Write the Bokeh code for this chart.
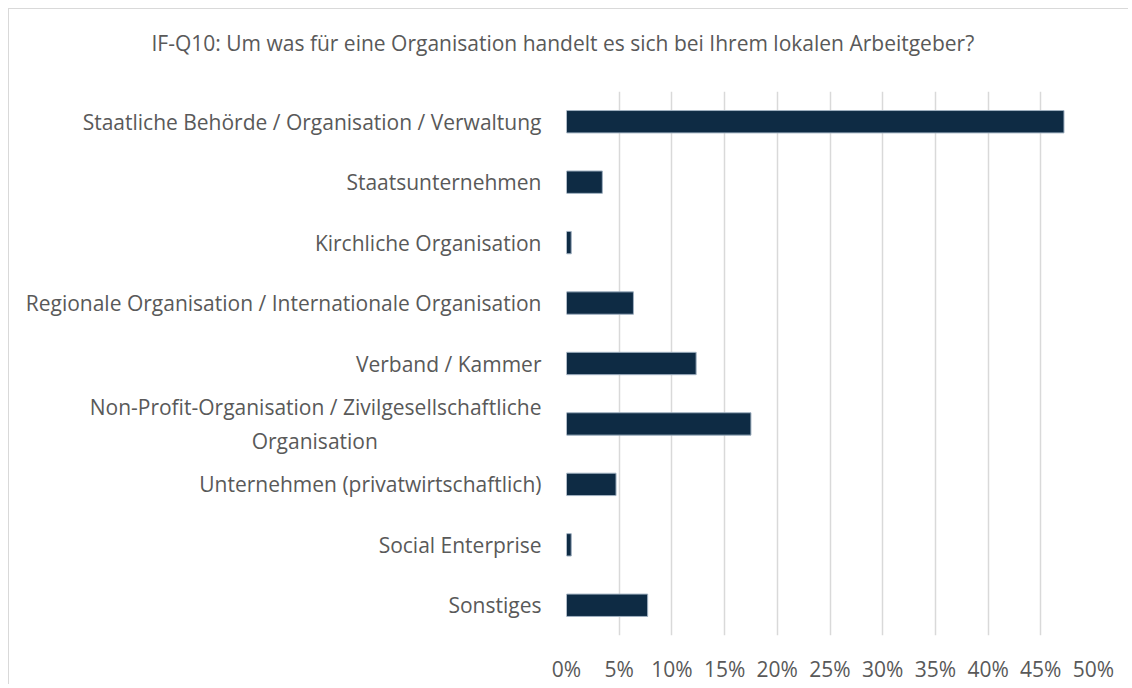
from bokeh.plotting import figure
from bokeh.models import ColumnDataSource, FactorRange, NumeralTickFormatter, FixedTicker, Title
from bokeh.embed import file_html
from bokeh.resources import INLINE

title_text = "IF-Q10: Um was für eine Organisation handelt es sich bei Ihrem lokalen Arbeitgeber?"

NBSP = "\u00a0"
categories = [
    "Staatliche Behörde / Organisation / Verwaltung",
    "Staatsunternehmen",
    "Kirchliche Organisation",
    "Regionale Organisation / Internationale Organisation",
    "Verband / Kammer",
    # second line padded so that it sits centred under the first, as in the reference
    "Non-Profit-Organisation / Zivilgesellschaftliche\nOrganisation" + NBSP * 30,
    "Unternehmen (privatwirtschaftlich)",
    "Social Enterprise",
    "Sonstiges",
]
shares = [0.472, 0.034, 0.0045, 0.0635, 0.123, 0.175, 0.047, 0.0045, 0.077]
x_ticks = [0.0, 0.05, 0.10, 0.15, 0.20, 0.25, 0.30, 0.35, 0.40, 0.45, 0.50]

TEXT = "#595959"
FONT = "Open Sans"
FS = "21px"

source = ColumnDataSource(dict(cat=categories, val=shares))

p = figure(
    width=1120, height=676,
    y_range=FactorRange(factors=list(reversed(categories))),
    x_range=(0, 0.5),
    output_backend="svg", toolbar_location=None,
    min_border_left=557, min_border_right=36,
    min_border_top=82, min_border_bottom=50,
    title=None,
)
p.styles = {"margin-left": "8px", "margin-top": "8px",
            "border-left": "1px solid #D9D9D9", "border-top": "1px solid #D9D9D9"}

p.hbar(y="cat", right="val", left=0, height=0.37, source=source,
       fill_color="#0E2B44", line_color="#9FB0C0", line_width=1)

p.outline_line_color = None
p.background_fill_color = "white"
p.border_fill_color = "white"

p.xgrid.ticker = FixedTicker(ticks=x_ticks)
p.xgrid.grid_line_color = "#D9D9D9"
p.xgrid.grid_line_width = 1.5
p.ygrid.grid_line_color = None

p.xaxis.ticker = FixedTicker(ticks=x_ticks)
p.xaxis.formatter = NumeralTickFormatter(format="0%")
p.xaxis.axis_line_color = None
p.xaxis.major_tick_line_color = None
p.xaxis.minor_tick_line_color = None
p.xaxis.major_tick_out = 0
p.xaxis.major_label_standoff = 19
p.xaxis.major_label_text_font = FONT
p.xaxis.major_label_text_font_size = FS
p.xaxis.major_label_text_color = TEXT

p.yaxis.axis_line_color = None
p.yaxis.major_tick_line_color = None
p.yaxis.minor_tick_line_color = None
p.yaxis.major_tick_out = 0
p.yaxis.major_label_standoff = 25
p.yaxis.major_label_text_font = FONT
p.yaxis.major_label_text_font_size = FS
p.yaxis.major_label_text_color = TEXT

# spacer panel between the frame and the title (closest to the frame)
p.add_layout(Title(text=" ", text_font_size="10px", standoff=0), "above")
# chart title, centred over the whole chart area
p.add_layout(Title(
    text=title_text, align="left", offset=-415, vertical_align="top", standoff=39,
    text_font=FONT, text_font_size=FS, text_font_style="normal", text_color=TEXT,
), "above")

open("out.html", "w").write(file_html(p, INLINE))
